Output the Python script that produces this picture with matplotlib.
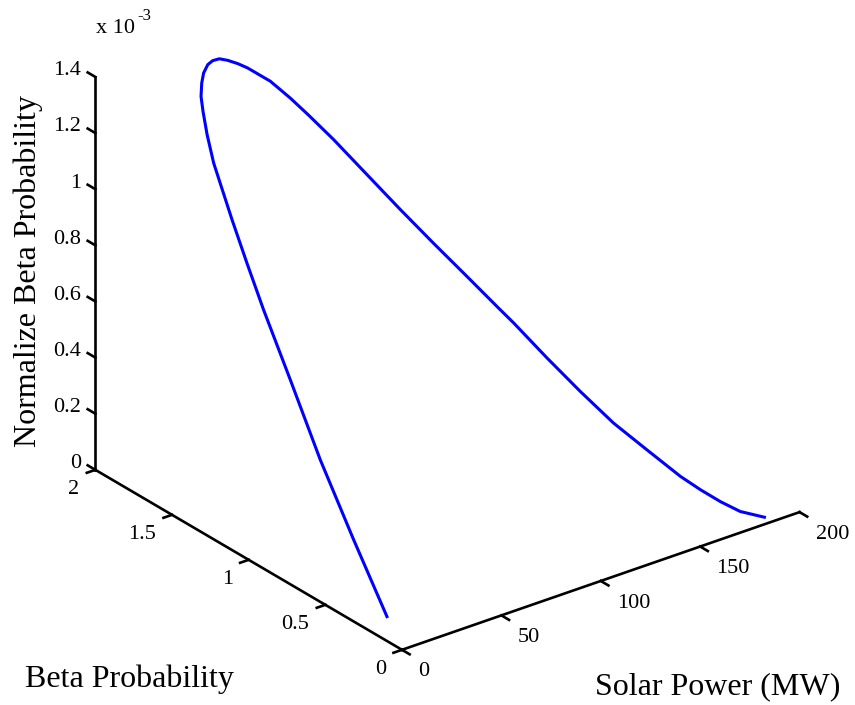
import matplotlib.pyplot as plt
from mpl_toolkits.mplot3d import proj3d

plt.rcParams['font.family'] = ['Liberation Serif', 'DejaVu Serif']

# curva: potencia solar (MW), probabilidad beta y la normalizada (x 10^-3)
power = [0.0, 0.5, 1.7, 4.3, 6.4, 8.3, 10.3, 13.4, 16.1, 18.9, 21.0, 23.9, 26.7, 30.1,
         33.0, 36.3, 39.6, 43.3, 46.8, 54.1, 59.5, 64.1, 70.2, 77.9, 85.5, 93.4, 101.4,
         109.0, 112.6, 120.3, 128.2, 136.5, 145.8, 155.1, 161.2, 167.6, 174.3, 183.7]
beta_prob = [0.098, 0.322, 0.555, 0.784, 0.986, 1.119, 1.242, 1.402, 1.480, 1.543, 1.583,
             1.616, 1.640, 1.657, 1.663, 1.662, 1.651, 1.633, 1.614, 1.560, 1.500, 1.440,
             1.356, 1.238, 1.119, 1.005, 0.891, 0.783, 0.732, 0.614, 0.499, 0.390, 0.293,
             0.195, 0.144, 0.097, 0.054, 0.018]
norm_prob = [0.087, 0.288, 0.495, 0.700, 0.880, 0.999, 1.109, 1.252, 1.322, 1.378, 1.413,
             1.443, 1.464, 1.480, 1.485, 1.484, 1.474, 1.459, 1.441, 1.393, 1.339, 1.286,
             1.211, 1.105, 1.000, 0.897, 0.796, 0.699, 0.654, 0.548, 0.446, 0.348, 0.261,
             0.175, 0.129, 0.086, 0.048, 0.016]

x_ticks = [0, 50, 100, 150, 200]
y_ticks = [0, 0.5, 1, 1.5, 2]
z_ticks = [0, 0.2, 0.4, 0.6, 0.8, 1, 1.2, 1.4]
x_labels = ['0', '50', '100', '150', '200']
y_labels = ['0', '0.5', '1', '1.5', '2']
z_labels = ['0', '0.2', '0.4', '0.6', '0.8', '1', '1.2', '1.4']

fig = plt.figure(figsize=(8.55, 7.05), dpi=100)
ax = fig.add_axes([0.09992, 0.06872, 0.82456, 1.0], projection='3d')
ax.set_proj_type('ortho')
ax.view_init(elev=26.8, azim=-127.53)
ax.set_box_aspect((1, 1.004, 0.878), zoom=1.1508)
ax.set_xlim(0, 200)
ax.set_ylim(0, 2)
ax.set_zlim(0, 1.4)
ax.set_axis_off()

# la curva
ax.plot(power, beta_prob, norm_prob, color='#0000ff', lw=2.2,
        solid_joinstyle='round', clip_on=False)

# ejes al estilo matlab (solo tres lineas)
lw_ax = 1.9
ax.plot([0, 200], [0, 0], [0, 0], color='k', lw=lw_ax, clip_on=False)
ax.plot([0, 0], [0, 2], [0, 0], color='k', lw=lw_ax, clip_on=False)
ax.plot([0, 0], [2, 2], [0, 1.4], color='k', lw=lw_ax, clip_on=False)

# las etiquetas se proyectan a 2D para que queden como texto normal
M = ax.get_proj()


def etiqueta(x, y, z, s, **kw):
    x2, y2, _ = proj3d.proj_transform(x, y, z, M)
    ax.text2D(x2, y2, s, transform=ax.transData, fontsize=16, **kw)


for xv, lab in zip(x_ticks, x_labels):
    ax.plot([xv, xv], [0, -0.05], [0, 0], color='k', lw=lw_ax, clip_on=False)
    etiqueta(xv, -0.105, -0.045, lab, ha='left', va='center')

for yv, lab in zip(y_ticks, y_labels):
    ax.plot([0, -4.3], [yv, yv], [0, 0], color='k', lw=lw_ax, clip_on=False)
    etiqueta(-8, yv, -0.052, lab, ha='right', va='center')

for zv, lab in zip(z_ticks, z_labels):
    ax.plot([0, 0], [2, 2.05], [zv, zv], color='k', lw=lw_ax, clip_on=False)
    etiqueta(-7, 2, zv + 0.039, lab, ha='right', va='center')

# titulos de los ejes
fig.text(28 / 855, 1 - 271 / 705, 'Normalize Beta Probability', rotation=90,
         ha='center', va='center', fontsize=23)
fig.text(25 / 855, 1 - 687 / 705, 'Beta Probability', ha='left', va='baseline', fontsize=23)
fig.text(595 / 855, 1 - 694 / 705, 'Solar Power (MW)', ha='left', va='baseline', fontsize=23)
fig.text(96 / 855, 1 - 33 / 705, 'x 10', ha='left', va='baseline', fontsize=16)
fig.text(137 / 855, 1 - 20 / 705, '-3', ha='left', va='baseline', fontsize=12)

plt.savefig('out.png', dpi=100)
